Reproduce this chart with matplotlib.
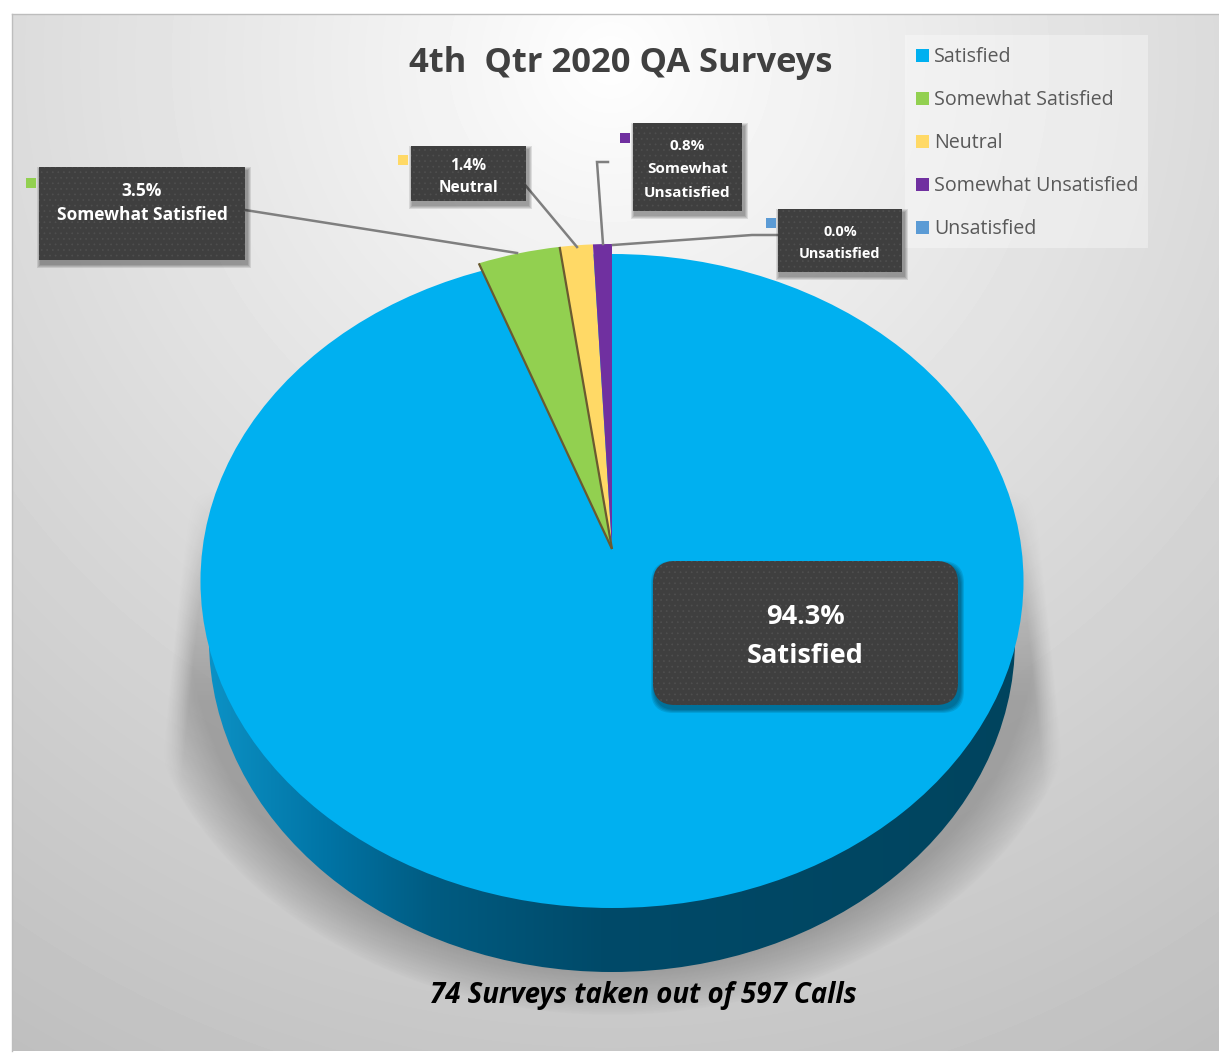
import numpy as np
from matplotlib import pyplot as plt
from matplotlib.patches import Ellipse, FancyBboxPatch, Patch, Rectangle

plt.rcParams['font.family'] = ['Open Sans', 'DejaVu Sans']
plt.rcParams['hatch.linewidth'] = 0.5

names = ['Satisfied', 'Somewhat Satisfied', 'Neutral', 'Somewhat Unsatisfied', 'Unsatisfied']
values = [94.3, 3.5, 1.4, 0.8, 0.0]
label_lines = [['Satisfied'], ['Somewhat Satisfied'], ['Neutral'], ['Somewhat', 'Unsatisfied'], ['Unsatisfied']]
title = '4th  Qtr 2020 QA Surveys'
footer = '74 Surveys taken out of 597 Calls'

colors = ['#00b0f0', '#92d050', '#ffd966', '#7030a0', '#5b9bd5']

W, H = 1219, 1053
fig = plt.figure(figsize=(W/100, H/100), dpi=100, facecolor='white')

# background axes in pixel coordinates
ax = fig.add_axes([0, 0, 1, 1], zorder=0)
yy, xx = np.mgrid[14:H-2, 12:W]
r = np.hypot(xx-610, yy-60)/1150
grey = (255-64*np.clip(r, 0, 1.1)**0.9)/255
ax.imshow(grey, cmap='gray', vmin=0, vmax=1, extent=(12, W, H-2, 14), aspect='auto')

# soft shadow under the pie, with the straight fading edges left and right
rs = np.hypot((xx-612)/480, (yy-630)/385)
sh = np.clip((1-rs)/0.12, 0, 1)**0.8
side = np.clip((425+(yy-510)*23/220-np.abs(xx-612))/22, 0, 1)
sh = sh*side*np.clip((yy-490)/210, 0, 1)**0.8
rgba = np.zeros(grey.shape+(4,))
rgba[..., 3] = 0.24*sh
ax.imshow(rgba, extent=(12, W, H-2, 14), aspect='auto')

# side wall of the pie
stops_x = [205, 230, 330, 430, 600, 1024]
stops_r = [0x0b, 0x0a, 0x00, 0x00, 0x00, 0x00]
stops_g = [0x93, 0x8c, 0x73, 0x5c, 0x4a, 0x44]
stops_b = [0xc8, 0xbf, 0xa4, 0x82, 0x69, 0x5e]
col_x = np.arange(W)
band = np.stack([np.interp(col_x, stops_x, s) for s in (stops_r, stops_g, stops_b)], axis=1)[None, :, :]/255
wall = ax.imshow(band, extent=(0, W, H, 0), aspect='auto')
bottom = Ellipse((612, 640), 806, 664, transform=ax.transData, fc='none', ec='none')
ax.add_patch(bottom)
wall.set_clip_path(bottom)

# top face
ax.add_patch(Ellipse((612, 581), 823, 654, fc=colors[0], ec='none'))
ax.set_xlim(0, W)
ax.set_ylim(H, 0)
ax.axis('off')
ax.plot([12, 12], [14, H-2], color='#bdbdbd', lw=1)
ax.plot([12, W], [14, 14], color='#bdbdbd', lw=1)

# slices, centred on the apex of the pulled out wedges
pie_ax = fig.add_axes([232/W, (H-854)/H, 760/W, 610/H], zorder=1)
wedges, _ = pie_ax.pie(values, colors=colors, startangle=90, counterclock=False, wedgeprops={'lw': 0})
pie_ax.set_aspect('auto')
pie_ax.set_xlim(-1, 1)
pie_ax.set_ylim(-1, 1)
# the big slice is not pulled out, the top face ellipse gives its rim
wedges[0].set_radius(0.9)
for w in wedges[1:3]:
    a = np.radians(w.theta2)
    pie_ax.plot([0, np.cos(a)], [0, np.sin(a)], color='#6a5a30', lw=1.6, solid_capstyle='butt')

# labels, leader lines, legend
top = fig.add_axes([0, 0, 1, 1], zorder=2)
top.set_xlim(0, W)
top.set_ylim(H, 0)
top.axis('off')
top.patch.set_alpha(0)

leaders = [None,
           [(245, 210), (517, 253)],
           [(526, 186), (577, 247)],
           [(608, 162), (597, 162), (603, 244)],
           [(613, 245), (752, 235), (778, 235)]]
for pts in leaders:
    if pts:
        top.plot(*zip(*pts), color='#7f7f7f', lw=1.8, zorder=1, solid_joinstyle='miter')

boxes = [(653, 561, 958, 705), (39, 167, 245, 260), (411, 146, 526, 201), (633, 123, 742, 211), (778, 209, 902, 272)]
text_y = [[617, 656], [191, 215], [166, 188], [146, 169, 193], [232, 254]]
keys = [None, (26, 178), (398, 155), (620, 133), (766, 218)]
sizes = [19.5, 12.5, 11.2, 11, 10.4]

for i, (x0, y0, x1, y1) in enumerate(boxes):
    style = 'round,pad=0,rounding_size=22' if i == 0 else 'square,pad=0'
    for g in range(4, 0, -1):
        top.add_patch(FancyBboxPatch((x0+2-g, y0+4-g), x1-x0+2*g, y1-y0+2*g, boxstyle=style, fc='black',
                                     ec='none', alpha=0.1, zorder=2))
    top.add_patch(FancyBboxPatch((x0, y0), x1-x0, y1-y0, boxstyle=style, fc='#3f3f3f', ec='none', zorder=3))
    top.add_patch(FancyBboxPatch((x0, y0), x1-x0, y1-y0, boxstyle=style, fc='none', ec='#4f4f4f', lw=0,
                                 hatch='...', zorder=4))
    lines = [f'{values[i]:.1f}%'] + label_lines[i]
    for s, ty in zip(lines, text_y[i]):
        top.text((x0+x1)/2, ty, s, color='white', fontsize=sizes[i], fontweight='bold', ha='center', va='center',
                 zorder=5)
    if keys[i]:
        top.add_patch(Rectangle(keys[i], 10, 10, fc=colors[i], ec='none', zorder=5))

top.text(621, 63, title, color='#404040', fontsize=24.8, fontweight='bold', ha='center', va='center')
top.text(643, 995, footer, color='black', fontsize=19.9, fontweight='bold', fontstyle='italic', ha='center', va='center')

top.add_patch(Rectangle((905, 35), 243, 213, fc='white', ec='none', alpha=0.35, zorder=0))
handles = [Patch(fc=c, ec='none', label=n) for c, n in zip(colors, names)]
leg = top.legend(handles=handles, loc='upper left', bbox_to_anchor=(916/W, 1-47.5/H), bbox_transform=fig.transFigure,
                 fontsize=14.15, labelcolor='#595959', handlelength=0.66, handleheight=0.66, handletextpad=0.25,
                 labelspacing=1.169, borderpad=0, borderaxespad=0, frameon=False)

fig.savefig('out.png', dpi=100)
